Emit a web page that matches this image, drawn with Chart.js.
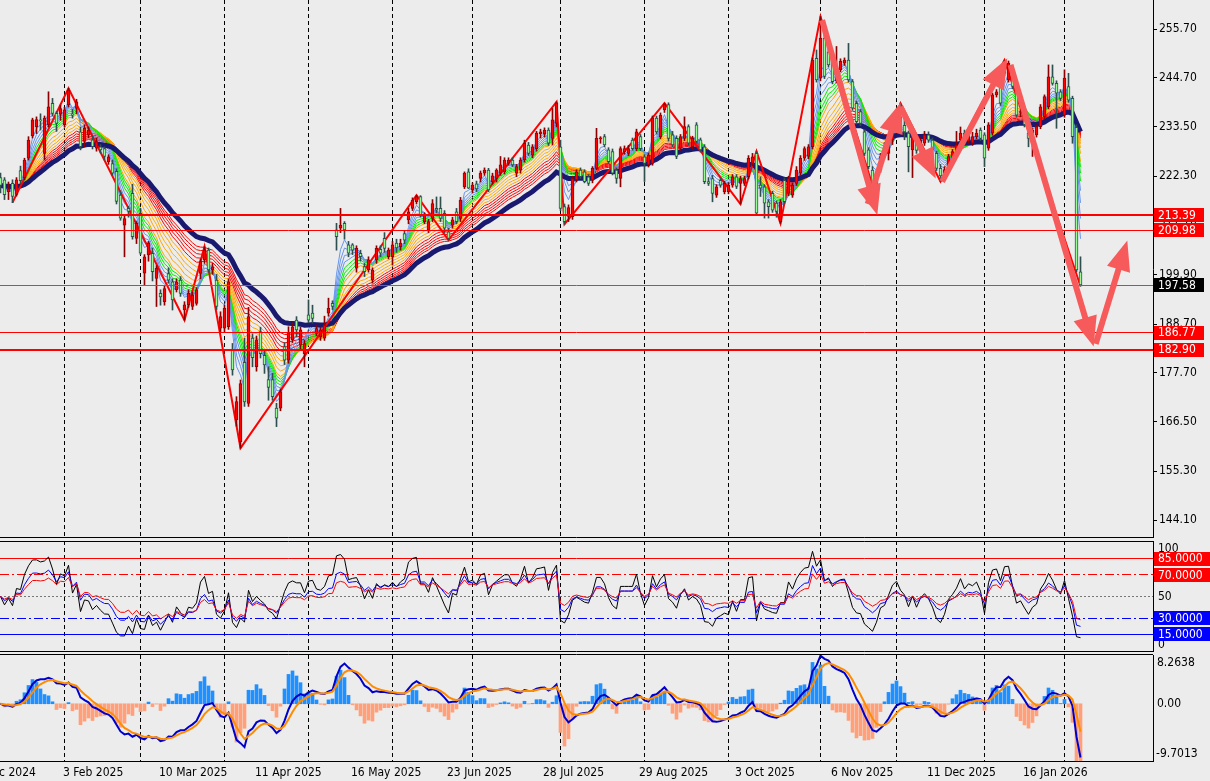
<!DOCTYPE html>
<html lang="en">
<head>
<meta charset="UTF-8">
<title>Daily chart Dec 2024 - Feb 2026</title>
<script src="https://cdn.jsdelivr.net/npm/chart.js"></script>
<style>
    html, body { margin: 0; padding: 0; background: #ececec; }
    body { position: relative; width: 1210px; height: 781px; overflow: hidden; }
    canvas { position: absolute; left: 0; }
    #priceChart { top: 0; }
    #rsiChart { top: 541px; }
    #macdChart { top: 654px; }
</style>
</head>
<body>
<canvas id="priceChart" width="1210" height="538"></canvas>
<canvas id="rsiChart" width="1210" height="111"></canvas>
<canvas id="macdChart" width="1210" height="127"></canvas>
<script>
// ---- data (one bar per trading day, first bar is index -16, 3 Feb 2025 = index 0)
const firstBar = -16;
const opens = [
    222.0, 221.5, 218.8, 220.7, 218.2, 223.6, 222.0, 226.4, 231.5, 233.6,
    235.1, 227.5, 234.0, 238.9, 236.6, 236.4, 234.0, 238.5, 236.4, 237.8,
    232.4, 230.2, 231.7, 230.6, 228.7, 229.0, 228.6, 225.6, 225.2, 223.4,
    218.0, 211.2, 215.0, 218.4, 208.2, 213.9, 200.3, 204.4, 204.8, 199.1,
    195.7, 193.8, 200.2, 198.3, 196.5, 198.7, 191.9, 193.1, 192.7, 193.4,
    200.2, 203.3, 205.5, 201.0, 198.7, 187.8, 187.8, 188.1, 182.8, 167.0,
    162.0, 180.0, 170.7, 185.5, 179.0, 187.0, 181.6, 176.1, 176.1, 169.6,
    169.6, 183.6, 180.5, 185.1, 189.6, 183.9, 182.0, 190.8, 191.2, 186.6,
    185.8, 185.5, 191.2, 193.4, 210.1, 210.5, 211.6, 206.7, 206.7, 201.4,
    204.8, 201.8, 201.0, 198.7, 203.3, 205.7, 208.2, 204.0, 204.0, 207.1,
    206.3, 209.3, 212.4, 215.0, 216.5, 217.7, 212.0, 210.1, 212.7, 215.0,
    215.0, 213.9, 209.7, 211.2, 214.2, 212.7, 219.9, 223.3, 219.2, 220.6,
    221.8, 223.0, 223.7, 221.1, 221.8, 223.0, 223.3, 225.3, 226.0, 223.0,
    223.7, 226.0, 229.4, 227.1, 228.6, 231.9, 231.9, 232.8, 230.9, 234.3,
    229.0, 215.4, 213.2, 213.1, 221.5, 223.7, 223.3, 222.2, 221.4, 224.1,
    230.8, 231.3, 228.3, 227.9, 223.7, 221.8, 227.9, 227.5, 230.5, 228.6,
    231.3, 226.7, 224.9, 225.2, 235.5, 231.3, 237.4, 238.6, 231.7, 230.9,
    228.7, 230.9, 233.6, 229.0, 234.0, 230.6, 229.0, 221.1, 221.8, 218.0,
    221.4, 218.8, 218.8, 220.3, 222.2, 220.7, 220.7, 222.2, 225.2, 227.5,
    220.3, 219.9, 216.5, 218.4, 216.2, 212.0, 221.4, 218.4, 218.0, 220.7,
    223.0, 226.4, 226.8, 229.0, 249.1, 244.6, 253.7, 250.6, 248.7, 244.0,
    246.5, 248.0, 248.7, 243.8, 238.9, 237.0, 232.4, 228.3, 223.7, 220.7,
    223.7, 229.0, 227.5, 230.5, 234.2, 235.8, 233.9, 232.1, 228.3, 231.0,
    228.2, 229.8, 231.7, 230.5, 227.5, 224.1, 222.4, 223.7, 226.0, 227.9,
    230.5, 232.1, 230.3, 229.8, 231.3, 232.8, 231.7, 228.7, 232.1, 240.8,
    243.8, 245.7, 244.2, 246.5, 242.3, 236.8, 236.5, 232.1, 232.1, 231.7,
    233.6, 235.8, 238.1, 244.9, 243.4, 241.5, 236.2, 242.7, 240.0, 233.4,
    200.6
];
const highs = [
    223.0, 222.0, 221.0, 221.5, 222.0, 224.6, 226.4, 231.3, 235.5, 235.8,
    236.5, 236.0, 241.5, 240.0, 237.0, 238.5, 238.0, 242.3, 237.5, 239.8,
    233.5, 234.0, 233.5, 231.5, 231.0, 229.5, 229.0, 227.2, 226.0, 224.0,
    219.0, 213.5, 215.5, 220.5, 212.0, 215.0, 204.5, 207.5, 206.0, 202.0,
    196.5, 197.5, 201.5, 199.0, 199.0, 199.5, 193.8, 196.5, 196.0, 197.0,
    203.5, 206.3, 206.0, 202.5, 200.0, 191.5, 193.0, 199.0, 184.3, 172.2,
    176.0, 185.5, 192.5, 186.5, 186.0, 188.0, 182.8, 179.0, 177.5, 170.7,
    174.0, 184.5, 188.1, 189.0, 190.4, 188.0, 185.0, 194.2, 193.0, 188.5,
    188.0, 190.5, 194.6, 194.0, 211.6, 215.0, 212.0, 207.5, 207.0, 206.5,
    205.5, 202.5, 204.0, 201.5, 206.5, 206.5, 209.5, 206.0, 207.5, 208.0,
    208.0, 210.0, 215.0, 217.4, 218.0, 217.9, 214.0, 212.5, 217.0, 217.6,
    217.6, 214.5, 210.5, 213.0, 215.0, 217.5, 223.3, 224.0, 220.8, 221.2,
    223.5, 224.2, 224.1, 223.0, 224.0, 226.8, 226.5, 226.5, 226.5, 225.0,
    226.5, 230.5, 230.0, 229.5, 232.5, 233.0, 233.3, 233.3, 237.7, 239.2,
    230.5, 216.0, 215.8, 222.3, 223.8, 224.2, 223.8, 222.7, 224.5, 233.2,
    231.3, 231.8, 228.8, 228.5, 224.2, 229.0, 229.2, 229.3, 231.0, 233.0,
    231.8, 227.2, 227.6, 236.0, 236.0, 236.7, 238.9, 239.0, 232.5, 231.5,
    231.8, 235.8, 234.0, 231.4, 234.5, 231.0, 229.5, 222.0, 222.5, 220.4,
    222.0, 221.2, 220.8, 222.7, 222.7, 222.3, 222.3, 227.0, 227.5, 228.0,
    222.2, 220.4, 217.0, 218.9, 216.7, 217.0, 221.9, 222.3, 220.8, 224.5,
    227.0, 229.0, 229.5, 249.2, 251.0, 258.6, 254.5, 251.5, 249.5, 251.8,
    249.0, 249.2, 252.5, 244.3, 239.4, 237.5, 232.9, 228.8, 224.5, 223.5,
    227.5, 230.0, 231.5, 235.0, 236.5, 238.9, 235.5, 232.6, 232.2, 231.5,
    231.0, 232.5, 232.4, 231.0, 228.0, 225.0, 224.5, 227.3, 228.4, 232.5,
    233.5, 232.8, 232.2, 232.3, 233.0, 233.3, 232.2, 234.5, 241.2, 242.0,
    244.3, 248.7, 248.5, 247.0, 242.8, 237.5, 237.0, 233.0, 233.3, 234.0,
    238.6, 240.8, 247.6, 247.6, 244.0, 242.0, 246.5, 245.7, 240.5, 234.0,
    204.0
];
const lows = [
    218.5, 217.0, 217.0, 216.3, 217.8, 220.6, 221.5, 226.0, 231.0, 232.0,
    232.8, 226.0, 233.5, 236.0, 232.5, 235.0, 233.5, 238.0, 235.5, 236.5,
    228.3, 229.0, 231.0, 228.5, 228.0, 227.6, 226.0, 225.0, 222.5, 216.0,
    212.3, 204.0, 213.0, 208.0, 207.0, 204.5, 197.6, 203.0, 198.5, 192.7,
    193.0, 193.0, 198.0, 191.9, 196.0, 195.0, 189.6, 192.5, 192.0, 193.0,
    199.0, 202.5, 200.5, 200.0, 192.0, 187.0, 187.0, 187.5, 177.1, 165.5,
    160.5, 170.0, 170.0, 179.0, 178.0, 181.0, 177.5, 171.4, 171.4, 165.4,
    169.0, 179.5, 179.8, 184.5, 185.8, 183.0, 179.0, 189.0, 188.9, 186.0,
    185.0, 185.0, 190.5, 192.0, 205.5, 209.5, 208.0, 204.0, 204.5, 200.5,
    203.0, 199.5, 200.5, 198.0, 202.5, 204.0, 205.0, 203.5, 202.1, 205.0,
    205.5, 207.0, 211.5, 214.5, 216.0, 213.0, 211.5, 209.5, 212.0, 214.0,
    212.0, 209.5, 207.8, 210.5, 211.5, 212.0, 219.5, 219.5, 218.5, 218.8,
    221.0, 222.5, 218.8, 220.5, 221.0, 222.5, 222.8, 224.8, 224.5, 222.2,
    223.0, 225.5, 227.0, 226.5, 228.0, 231.0, 231.2, 229.3, 229.4, 233.5,
    214.5, 211.4, 212.0, 212.5, 221.0, 221.8, 220.8, 220.2, 220.8, 223.8,
    229.8, 229.0, 225.2, 222.6, 220.7, 219.9, 227.3, 227.0, 228.2, 228.1,
    228.1, 221.1, 224.4, 224.8, 231.9, 230.8, 236.8, 230.3, 229.0, 226.3,
    228.2, 230.4, 229.3, 228.5, 229.8, 227.8, 220.6, 220.2, 216.5, 217.5,
    219.8, 218.3, 218.3, 219.8, 219.5, 216.0, 220.2, 221.7, 224.7, 213.5,
    217.7, 212.8, 212.8, 214.1, 213.0, 211.6, 216.0, 217.9, 217.5, 220.2,
    222.5, 225.9, 226.3, 228.5, 243.7, 244.0, 244.5, 247.1, 243.3, 243.5,
    246.0, 247.5, 243.7, 237.3, 234.2, 233.8, 227.0, 224.0, 220.2, 220.4,
    223.2, 226.5, 226.0, 229.5, 232.8, 233.0, 230.6, 223.3, 222.0, 227.5,
    227.5, 229.3, 230.0, 223.3, 223.6, 221.1, 221.5, 223.2, 225.5, 227.4,
    230.0, 229.5, 229.8, 229.3, 230.8, 230.4, 224.5, 228.2, 231.6, 240.3,
    238.4, 245.2, 243.7, 242.2, 235.7, 235.8, 233.5, 229.0, 226.8, 231.2,
    233.1, 235.3, 237.6, 243.0, 233.2, 239.5, 235.7, 239.1, 229.8, 200.6,
    197.3
];
const closes = [
    220.2, 218.1, 219.4, 217.7, 221.5, 221.3, 226.0, 230.5, 235.1, 235.2,
    234.9, 235.5, 238.1, 236.6, 234.3, 237.7, 237.4, 241.9, 236.2, 239.2,
    229.0, 233.2, 232.8, 229.0, 230.2, 228.3, 226.8, 226.7, 223.0, 216.6,
    212.8, 212.7, 214.3, 208.6, 211.6, 204.8, 204.0, 207.1, 200.6, 201.4,
    194.9, 196.8, 198.7, 194.2, 198.3, 195.7, 193.1, 195.7, 195.3, 196.5,
    202.9, 205.5, 201.0, 201.7, 192.7, 190.4, 192.3, 198.3, 178.3, 171.1,
    175.2, 171.0, 190.4, 181.1, 185.1, 182.0, 179.4, 174.3, 172.2, 167.3,
    173.3, 180.5, 186.6, 188.1, 187.4, 187.4, 184.3, 189.6, 190.0, 187.7,
    187.4, 188.5, 192.3, 192.7, 208.6, 211.2, 210.1, 204.8, 205.5, 205.9,
    204.0, 200.6, 203.3, 201.0, 205.9, 204.8, 205.9, 205.5, 206.7, 206.0,
    207.1, 207.8, 214.2, 216.9, 217.7, 213.5, 213.5, 212.0, 216.1, 214.6,
    212.7, 210.5, 208.2, 212.4, 212.0, 216.9, 223.0, 219.6, 220.3, 219.4,
    223.0, 223.7, 219.2, 222.4, 223.7, 224.9, 226.0, 226.0, 224.9, 224.5,
    226.0, 229.8, 227.5, 229.0, 232.1, 232.4, 232.8, 229.8, 235.1, 239.0,
    215.0, 212.0, 215.2, 221.8, 223.3, 222.2, 221.1, 220.7, 224.1, 230.9,
    230.9, 229.4, 225.6, 223.0, 221.8, 228.6, 228.6, 228.6, 228.6, 232.4,
    228.6, 225.2, 227.1, 235.5, 232.4, 236.2, 238.6, 230.9, 229.4, 226.8,
    231.3, 233.6, 229.8, 230.9, 230.2, 228.3, 221.1, 220.7, 218.4, 219.9,
    220.3, 220.7, 220.3, 222.2, 220.0, 221.8, 221.8, 226.4, 226.7, 213.9,
    219.6, 216.2, 215.4, 214.6, 214.3, 216.5, 216.5, 221.8, 220.3, 223.7,
    226.4, 228.6, 229.0, 248.7, 244.2, 253.7, 245.0, 247.6, 243.8, 246.8,
    248.4, 248.7, 244.2, 237.8, 234.7, 234.3, 227.5, 224.5, 220.7, 222.9,
    226.8, 227.5, 230.5, 234.2, 235.8, 233.6, 232.4, 229.0, 231.7, 228.2,
    230.5, 231.7, 230.5, 228.3, 224.1, 222.4, 223.8, 226.8, 227.9, 229.4,
    232.1, 230.3, 231.6, 231.3, 232.1, 230.9, 226.4, 234.0, 240.8, 241.5,
    238.9, 247.6, 248.0, 242.7, 236.2, 237.0, 234.0, 230.9, 232.8, 233.6,
    238.1, 240.4, 244.9, 243.4, 241.2, 240.0, 244.6, 239.6, 231.3, 201.0,
    197.58
];

// price axis ticks as printed on the right scale
const priceTicks = [144.10, 155.30, 166.50, 177.70, 188.70, 199.90, 211.10, 222.30, 233.50, 244.70, 255.70];
const priceMin = 140.09;
const priceMax = 262.36;

// first bar of each month (vertical grid) and time scale labels
const monthStarts = [0, 19, 40, 61, 82, 102, 124, 145, 166, 189, 208, 230, 250];
const dateLabelIdx = [-24, 0, 24, 48, 72, 96, 120, 144, 168, 192, 216, 240];
const dateLabels = ['26 Dec 2024', '3 Feb 2025', '10 Mar 2025', '11 Apr 2025', '16 May 2025', '23 Jun 2025',
    '28 Jul 2025', '29 Aug 2025', '3 Oct 2025', '6 Nov 2025', '11 Dec 2025', '16 Jan 2026'];

// zigzag swing points
const zigzagIdx = [-13, 1, 30, 35, 44, 88, 96, 123, 125, 150, 169, 173, 179, 189, 202, 209, 219, 235, 254];
const zigzagVal = [216.3, 242.3, 189.6, 206.3, 160.5, 218.0, 207.8, 239.2, 211.4, 238.9, 216.0, 228.0, 211.6, 258.6, 220.2, 238.9, 221.1, 248.7, 197.3];

// horizontal levels
const levelVals = [213.39, 209.98, 197.58, 186.77, 182.90];

// hand drawn arrows (bar index / price)
const arrowFromIdx = [189.4, 200.8, 209.0, 219.4, 236.5, 257.8];
const arrowFromVal = [257.8, 216.0, 238.1, 221.1, 247.6, 184.2];
const arrowToIdx = [203.2, 209.0, 217.8, 235.7, 257.3, 265.7];
const arrowToVal = [213.5, 239.0, 221.8, 249.1, 183.6, 207.7];

// indicator settings
const rainbowPeriods = [28, 26, 24, 22, 20, 18, 16, 14, 12, 10, 9, 8, 7, 6, 5, 4, 3];
const slowPeriod = 34;
const rsiPeriods = [6, 12, 18];
const rsiLevels = [85, 70, 50, 30, 15];
const macdFast = 6, macdSlow = 13, macdSignal = 4;
const macdMax = 8.2638, macdMin = -9.7013;

// ---- styles
const FONT = "'DejaVu Sans Condensed', 'Liberation Sans', sans-serif";
Chart.defaults.font.family = FONT;
Chart.defaults.font.size = 12;
Chart.defaults.color = '#000';

const rainbowColors = ['#ff0000', '#ff0000', '#ff0000', '#ff0000', '#ff0000',
    '#ffa500', '#ffa500', '#ffb000', '#ffa500', '#ffa500',
    '#00ee00', '#00ee00', '#00ee00',
    '#6495ed', '#6495ed', '#6495ed', '#6495ed'];
const levelColors = ['#ff0000', '#ff0000', '#4169e1', '#ff0000', '#ff0000'];
const levelWidths = [2, 1, 1, 1, 2];
const levelBoxes = ['#ff0000', '#ff0000', '#000000', '#ff0000', '#ff0000'];
const rsiColors = ['#000000', '#0000ff', '#ff0000'];
const rsiLevelColors = ['#ff0000', '#ff0000', '#777777', '#0000ff', '#0000ff'];
const rsiLevelDash = [[], [9, 3, 2, 3], [2, 2], [9, 3, 2, 3], []];
const rsiLevelBox = ['#ff0000', '#ff0000', null, '#0000ff', '#0000ff'];
const ARROW = 'rgb(247, 90, 90)';
const AXIS_W = 57;

// ---- indicator maths
function ema(src, n) {
    const a = 2 / (n + 1);
    let e = src[0];
    return src.map((v, k) => (k === 0 ? e : (e += a * (v - e))));
}

// Wilder RSI, starting from a neutral state
function rsi(src, n) {
    const moves = [];
    for (let k = 1; k < src.length; k++) moves.push(src[k] - src[k - 1]);
    const seed = moves.slice(0, n).reduce((s, d) => s + Math.abs(d), 0) / n / 2;
    let g = seed, l = seed;
    const out = [50];
    moves.forEach(d => {
        g = (g * (n - 1) + Math.max(d, 0)) / n;
        l = (l * (n - 1) + Math.max(-d, 0)) / n;
        out.push(l === 0 ? 100 : 100 - 100 / (1 + g / l));
    });
    return out;
}

const barX = closes.map((_, k) => firstBar + k);
const isUp = closes.map((c, k) => c >= opens[k]);
const xMin = firstBar - 0.125;
const xMax = xMin + 1153 / 4;

function xAxis() {
    return { type: 'linear', min: xMin, max: xMax, display: false, offset: false };
}

function lineSet(values, color, width, order, xs) {
    const px = xs || barX;
    return {
        type: 'line', data: values.map((v, k) => ({ x: px[k], y: v })),
        borderColor: color, borderWidth: width, pointRadius: 0, tension: 0,
        fill: false, spanGaps: true, order
    };
}

function sideAxis(min, max) {
    return {
        position: 'right', min, max, bounds: 'data',
        ticks: { display: false },
        grid: { display: false, drawTicks: false },
        border: { display: true, color: '#000' },
        afterFit: s => { s.width = AXIS_W; s.paddingTop = 0; s.paddingBottom = 0; }
    };
}

function monthGrid(chart) {
    const { ctx, chartArea: a, scales: { x } } = chart;
    ctx.save();
    ctx.strokeStyle = '#000';
    ctx.lineWidth = 1;
    ctx.setLineDash([4, 3]);
    monthStarts.forEach(m => {
        const px = Math.round(x.getPixelForValue(m) - 0.5) + 0.5;
        ctx.beginPath();
        ctx.moveTo(px, a.top);
        ctx.lineTo(px, a.bottom);
        ctx.stroke();
    });
    ctx.restore();
}

function hLine(ctx, a, y, width) {
    ctx.beginPath();
    ctx.moveTo(a.left, y);
    ctx.lineTo(a.right, y);
    ctx.lineWidth = width;
    ctx.stroke();
}

function labelBox(ctx, text, y, bg) {
    ctx.fillStyle = bg;
    ctx.fillRect(1154, Math.round(y) - 7, AXIS_W - 7 + (text.length > 6 ? 6 : 0), 14);
    ctx.fillStyle = '#fff';
    ctx.fillText(text, 1158, y + 0.5);
}

function drawArrow(ctx, x1, y1, x2, y2) {
    const ang = Math.atan2(y2 - y1, x2 - x1);
    const c = Math.cos(ang), s = Math.sin(ang);
    const headLen = 30, headHalf = 12;
    const bx = x2 - headLen * c, by = y2 - headLen * s;
    ctx.strokeStyle = ARROW;
    ctx.fillStyle = ARROW;
    ctx.lineWidth = 6;
    ctx.lineCap = 'butt';
    ctx.beginPath();
    ctx.moveTo(x1, y1);
    ctx.lineTo(bx + 2 * c, by + 2 * s);
    ctx.stroke();
    ctx.beginPath();
    ctx.moveTo(x2, y2);
    ctx.lineTo(bx + headHalf * s, by - headHalf * c);
    ctx.lineTo(bx - headHalf * s, by + headHalf * c);
    ctx.closePath();
    ctx.fill();
}

// ---- price pane
const priceDecor = {
    id: 'priceDecor',
    beforeDatasetsDraw: monthGrid,
    afterDatasetsDraw(chart) {
        const { ctx, chartArea: a, scales: { x, y } } = chart;
        ctx.save();
        ctx.beginPath();
        ctx.rect(a.left, a.top, a.right - a.left, a.bottom - a.top);
        ctx.clip();
        levelVals.forEach((v, k) => {
            const w = levelWidths[k];
            const py = w % 2 ? Math.round(y.getPixelForValue(v) - 0.5) + 0.5 : Math.round(y.getPixelForValue(v));
            ctx.strokeStyle = levelColors[k];
            hLine(ctx, a, py, w);
        });
        arrowFromIdx.forEach((_, k) => {
            drawArrow(ctx,
                x.getPixelForValue(arrowFromIdx[k]), y.getPixelForValue(arrowFromVal[k]),
                x.getPixelForValue(arrowToIdx[k]), y.getPixelForValue(arrowToVal[k]));
        });
        ctx.restore();
    },
    afterDraw(chart) {
        const { ctx, chartArea: a, scales: { y } } = chart;
        ctx.save();
        ctx.strokeStyle = '#000';
        hLine(ctx, a, a.bottom - 0.5, 1);
        ctx.font = '12px ' + FONT;
        ctx.textBaseline = 'middle';
        ctx.textAlign = 'left';
        levelVals.forEach((v, k) => labelBox(ctx, v.toFixed(2), y.getPixelForValue(v), levelBoxes[k]));
        ctx.restore();
    }
};

const rainbowSets = rainbowPeriods.map((p, j) => lineSet(ema(closes, p), rainbowColors[j], 1, 100 - j));

new Chart(document.getElementById('priceChart'), {
    type: 'bar',
    data: {
        datasets: [
            ...rainbowSets,
            lineSet(ema(closes, slowPeriod), '#191970', 5, 20),
            lineSet(zigzagVal, '#ff0000', 2, 10, zigzagIdx),
            {
                type: 'bar', data: barX.map((x, k) => ({ x, y: [lows[k], highs[k]] })),
                barThickness: 1, grouped: false, borderWidth: 0,
                backgroundColor: isUp.map(u => (u ? '#8b0000' : '#2f4f4f')), order: 2
            },
            {
                type: 'bar', data: barX.map((x, k) => ({ x, y: [opens[k], closes[k]] })),
                barThickness: 3, grouped: false, minBarLength: 1, borderWidth: 1, borderSkipped: false,
                backgroundColor: isUp.map(u => (u ? '#ff0000' : '#98fb98')),
                borderColor: isUp.map(u => (u ? '#9b0000' : '#2f4f4f')), order: 1
            }
        ]
    },
    options: {
        responsive: false, animation: false, events: [],
        layout: { padding: 0 },
        plugins: { legend: { display: false }, tooltip: { enabled: false } },
        scales: {
            x: xAxis(),
            y: {
                position: 'right', min: priceMin, max: priceMax, bounds: 'data',
                afterBuildTicks: s => { s.ticks = priceTicks.map(v => ({ value: v })); },
                afterFit: s => { s.width = AXIS_W; s.paddingTop = 0; s.paddingBottom = 0; },
                ticks: { autoSkip: false, padding: 2, color: '#000', callback: v => v.toFixed(2) },
                grid: { drawOnChartArea: false, drawTicks: true, tickLength: 4, color: '#000' },
                border: { color: '#000', width: 1 }
            }
        }
    },
    plugins: [priceDecor]
});

// ---- RSI pane
const rsiDecor = {
    id: 'rsiDecor',
    beforeDatasetsDraw(chart) {
        const { ctx, chartArea: a, scales: { y } } = chart;
        monthGrid(chart);
        ctx.save();
        rsiLevels.forEach((v, k) => {
            ctx.strokeStyle = rsiLevelColors[k];
            ctx.setLineDash(rsiLevelDash[k]);
            hLine(ctx, a, Math.round(y.getPixelForValue(v) - 0.5) + 0.5, 1);
        });
        ctx.restore();
    },
    afterDraw(chart) {
        const { ctx, chartArea: a, scales: { y } } = chart;
        ctx.save();
        ctx.strokeStyle = '#000';
        hLine(ctx, a, 0.5, 1);
        hLine(ctx, a, a.bottom - 0.5, 1);
        ctx.font = '12px ' + FONT;
        ctx.textBaseline = 'middle';
        ctx.textAlign = 'left';
        ctx.fillStyle = '#000';
        ctx.fillText('100', 1158, y.getPixelForValue(100) + 6);
        ctx.fillText('0', 1158, y.getPixelForValue(0) - 6);
        rsiLevels.forEach((v, k) => {
            const py = y.getPixelForValue(v);
            if (rsiLevelBox[k]) {
                labelBox(ctx, v.toFixed(4), py, rsiLevelBox[k]);
            } else {
                ctx.fillStyle = '#000';
                ctx.fillText(String(v), 1158, py);
            }
        });
        ctx.restore();
    }
};

new Chart(document.getElementById('rsiChart'), {
    type: 'line',
    data: {
        datasets: rsiPeriods.map((p, j) => lineSet(rsi(closes, p), rsiColors[j], 1, 3 - j))
    },
    options: {
        responsive: false, animation: false, events: [],
        layout: { padding: 0 },
        plugins: { legend: { display: false }, tooltip: { enabled: false } },
        scales: { x: xAxis(), y: sideAxis(-1.4, 101.4) }
    },
    plugins: [rsiDecor]
});

// ---- MACD pane
const fastLine = ema(closes, macdFast);
const slowLine = ema(closes, macdSlow);
const dif = closes.map((_, k) => fastLine[k] - slowLine[k]);
const dea = ema(dif, macdSignal);
const osc = dif.map((d, k) => 3 * (d - dea[k]));

const macdDecor = {
    id: 'macdDecor',
    beforeDatasetsDraw: monthGrid,
    afterDraw(chart) {
        const { ctx, chartArea: a, scales: { x, y } } = chart;
        ctx.save();
        ctx.strokeStyle = '#000';
        hLine(ctx, a, 0.5, 1);
        hLine(ctx, a, a.bottom + 0.5, 1);
        ctx.font = '12px ' + FONT;
        ctx.textBaseline = 'middle';
        ctx.textAlign = 'left';
        ctx.fillStyle = '#000';
        ctx.fillText(macdMax.toFixed(4), 1157, a.top + 8);
        ctx.fillText('0.00', 1157, y.getPixelForValue(0));
        ctx.fillText(macdMin.toFixed(4), 1156, a.bottom - 7);
        dateLabelIdx.forEach((idx, k) => {
            ctx.fillText(dateLabels[k], x.getPixelForValue(idx) - 1.5, a.bottom + 12);
        });
        ctx.restore();
    }
};

new Chart(document.getElementById('macdChart'), {
    type: 'bar',
    data: {
        datasets: [
            {
                type: 'bar', data: barX.map((x, k) => ({ x, y: osc[k] })),
                barThickness: 3, grouped: false, borderWidth: 0,
                backgroundColor: osc.map(v => (v >= 0 ? '#1e90ff' : '#ffa07a')), order: 3
            },
            lineSet(dif, '#0000cd', 2, 2),
            lineSet(dea, '#ff8c00', 2, 1)
        ]
    },
    options: {
        responsive: false, animation: false, events: [],
        layout: { padding: { top: 1, bottom: 20, left: 0, right: 0 } },
        plugins: { legend: { display: false }, tooltip: { enabled: false } },
        scales: { x: xAxis(), y: sideAxis(macdMin, macdMax) }
    },
    plugins: [macdDecor]
});
</script>
</body>
</html>
